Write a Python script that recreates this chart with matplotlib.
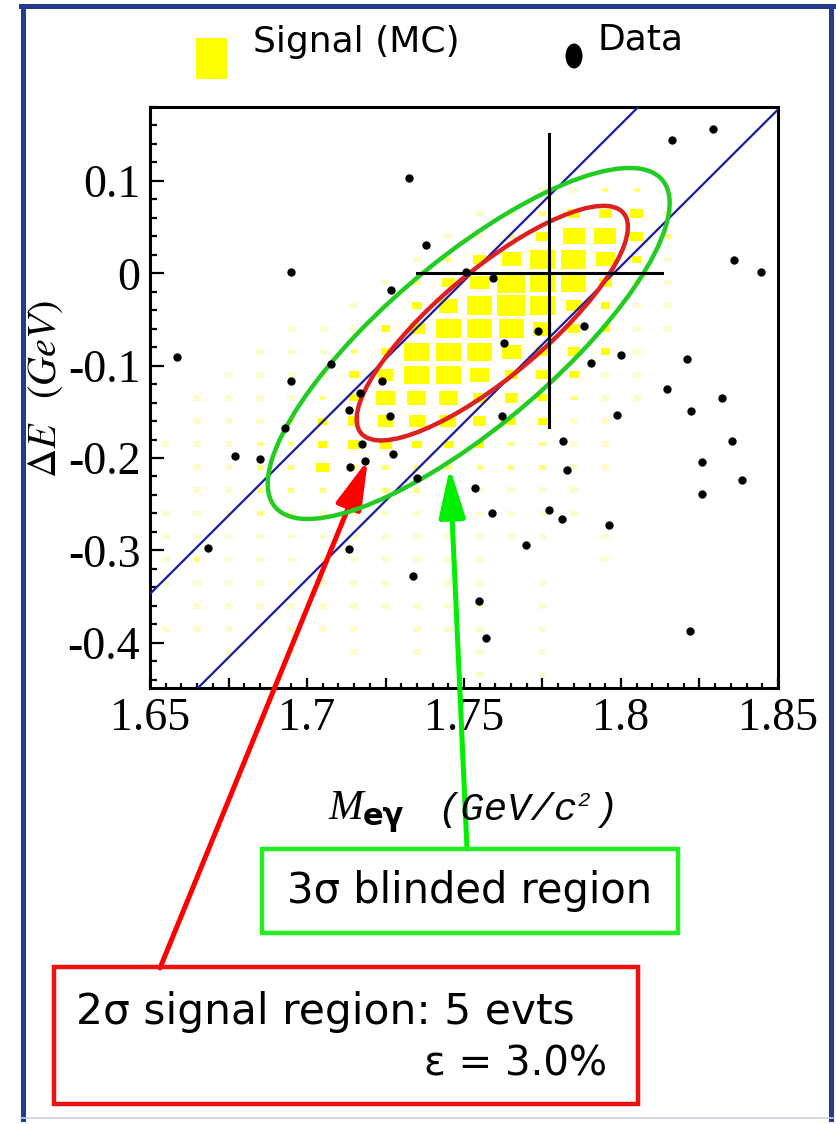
import matplotlib.pyplot as plt
import numpy as np
from matplotlib.patches import Rectangle, Ellipse
from matplotlib.collections import PatchCollection

plt.rcParams['axes.unicode_minus'] = False
plt.rcParams['mathtext.fontset'] = 'stix'

W, H = 837, 1124

# signal MC, box histogram: bin centres and box size (0-9)
mc_x = [1.655, 1.665, 1.675, 1.685, 1.695, 1.705, 1.715, 1.725, 1.735,
        1.745, 1.755, 1.765, 1.775, 1.785, 1.795, 1.805, 1.815]
mc_y = [0.09, 0.065, 0.04, 0.015, -0.01, -0.035, -0.06, -0.085, -0.11,
        -0.135, -0.16, -0.185, -0.21, -0.235, -0.26, -0.285, -0.31,
        -0.335, -0.36, -0.385, -0.41, -0.435]
mc_size = [
    [0, 0, 0, 0, 0, 0, 0, 0, 0, 0, 0, 0, 1, 1, 2, 2, 0],
    [0, 0, 0, 0, 0, 0, 0, 0, 0, 0, 1, 1, 2, 4, 4, 4, 1],
    [0, 0, 0, 0, 0, 0, 0, 0, 0, 1, 1, 2, 4, 7, 7, 4, 2],
    [0, 0, 0, 0, 0, 0, 0, 0, 1, 2, 4, 6, 8, 8, 6, 3, 1],
    [0, 0, 0, 0, 0, 0, 0, 1, 2, 4, 6, 9, 8, 8, 4, 2, 1],
    [0, 0, 0, 0, 0, 0, 1, 1, 3, 6, 8, 9, 8, 5, 3, 1, 1],
    [0, 0, 0, 0, 1, 1, 1, 3, 5, 8, 8, 8, 6, 4, 3, 1, 1],
    [0, 0, 0, 1, 1, 1, 2, 3, 8, 8, 8, 6, 4, 4, 3, 1, 0],
    [0, 0, 1, 1, 1, 1, 3, 5, 8, 8, 6, 4, 4, 3, 1, 1, 0],
    [0, 1, 1, 1, 1, 2, 3, 6, 6, 6, 4, 4, 3, 2, 1, 1, 0],
    [0, 1, 1, 1, 2, 3, 4, 5, 5, 5, 4, 3, 3, 1, 1, 0, 0],
    [1, 1, 1, 2, 2, 3, 4, 4, 3, 3, 3, 2, 2, 1, 1, 0, 0],
    [0, 1, 1, 2, 2, 4, 2, 2, 2, 2, 2, 2, 2, 1, 1, 0, 0],
    [0, 1, 1, 2, 2, 2, 2, 2, 2, 1, 1, 1, 1, 1, 0, 0, 0],
    [1, 1, 1, 2, 1, 1, 1, 1, 1, 1, 1, 1, 1, 1, 0, 0, 0],
    [1, 1, 1, 1, 1, 1, 1, 1, 1, 1, 1, 1, 1, 0, 1, 0, 0],
    [1, 2, 1, 1, 1, 1, 1, 1, 1, 1, 1, 0, 0, 0, 1, 0, 0],
    [1, 1, 1, 1, 1, 1, 1, 1, 0, 1, 1, 0, 1, 0, 0, 0, 0],
    [0, 1, 1, 1, 1, 1, 1, 1, 1, 1, 1, 0, 1, 0, 0, 0, 0],
    [1, 1, 1, 1, 1, 1, 1, 0, 1, 1, 1, 0, 1, 0, 0, 0, 0],
    [0, 0, 1, 0, 1, 0, 1, 0, 1, 0, 1, 0, 1, 0, 0, 0, 0],
    [0, 0, 0, 0, 0, 0, 0, 0, 0, 0, 1, 0, 1, 0, 0, 0, 0],
]

# data events
data_x = [1.7326, 1.7379, 1.6949, 1.7268, 1.6586, 1.7075, 1.6948, 1.7239, 1.7170,
          1.8163, 1.8294, 1.8360, 1.8446, 1.7506, 1.7591, 1.7883, 1.7737, 1.7626,
          1.7999, 1.7903, 1.8211, 1.8146, 1.8321, 1.7134, 1.7265, 1.6930, 1.7176,
          1.6770, 1.6849, 1.7273, 1.7136, 1.7185, 1.7351, 1.6684, 1.7133, 1.7338,
          1.8223, 1.7986, 1.7622, 1.8353, 1.7815, 1.8258, 1.7829, 1.8385, 1.7534,
          1.8258, 1.7590, 1.7771, 1.7813, 1.7962, 1.7696, 1.7547, 1.8220, 1.7569]
data_y = [0.1034, 0.0306, 0.0011, -0.0177, -0.0905, -0.0981, -0.1168, -0.1168, -0.1297,
          0.1438, 0.1560, 0.0144, 0.0017, 0.0011, -0.0054, -0.0570, -0.0624, -0.0757,
          -0.0883, -0.0970, -0.0926, -0.1258, -0.1354, -0.1481, -0.1543, -0.1676, -0.1853,
          -0.1978, -0.2015, -0.1954, -0.2094, -0.2037, -0.2221, -0.2970, -0.2984, -0.3280,
          -0.1496, -0.1532, -0.1543, -0.1813, -0.1821, -0.2048, -0.2126, -0.2238, -0.2329,
          -0.2386, -0.2591, -0.2566, -0.2659, -0.2721, -0.2937, -0.3550, -0.3878, -0.3946]

# ellipses: centre x, centre y, half extent in x, half extent in y, correlation
red_ell = (1.759, -0.054, 0.0432, 0.127, 0.82)
green_ell = (1.7515, -0.076, 0.0640, 0.190, 0.80)

# blue band: crossing points at dE = 0, slope
band_x0 = [1.7524, 1.7977]
band_slope = 3.39

m_tau = 1.777
cross_dx = (1.735, 1.813)
cross_dy = (-0.166, 0.151)


def fx(px):
    return px / W


def fy(py):
    return 1 - py / H


def ellipse(par, color):
    cx, cy, a, b, r = par
    cov = np.array([[a * a, r * a * b], [r * a * b, b * b]])
    vals, vecs = np.linalg.eigh(cov)
    ang = np.degrees(np.arctan2(vecs[1, 1], vecs[0, 1]))
    return Ellipse((cx, cy), 2 * np.sqrt(vals[1]), 2 * np.sqrt(vals[0]), angle=ang,
                   fill=False, ec=color, lw=3.2, zorder=4)


fig = plt.figure(figsize=(W / 100, H / 100), dpi=100)
ax = fig.add_axes([fx(150), fy(688), 628 / W, 581 / H])

# MC boxes
boxes, cols = [], []
for j, y in enumerate(mc_y):
    for i, x in enumerate(mc_x):
        v = mc_size[j][i]
        if v == 0:
            continue
        f = 0.25 if v == 1 else v / 10
        w, h = f * 0.01, f * 0.025
        boxes.append(Rectangle((x - w / 2, y - h / 2), w, h))
        cols.append('#ffff00' if v >= 3 else ('#ffff70' if v == 2 else '#fdfccc'))
ax.add_collection(PatchCollection(boxes, facecolor=cols, edgecolor='none', zorder=1))

for x0 in band_x0:
    ax.axline((x0, 0), slope=band_slope, color='#1a1a9c', lw=1.6, zorder=3)

ax.add_patch(ellipse(green_ell, '#22cc22'))
ax.add_patch(ellipse(red_ell, '#dd2020'))

ax.plot([m_tau, m_tau], cross_dy, color='black', lw=2.2, zorder=5)
ax.plot(cross_dx, [0, 0], color='black', lw=2.2, zorder=5)

ax.plot(data_x, data_y, 'o', color='black', ms=6, mec='none', zorder=6)

ax.set_xlim(1.65, 1.85)
ax.set_ylim(-0.449, 0.180)
ax.set_xticks([1.65, 1.675, 1.7, 1.725, 1.75, 1.775, 1.8, 1.825, 1.85],
              ['1.65', '', '1.7', '', '1.75', '', '1.8', '', '1.85'])
ax.set_xticks(np.arange(1.65, 1.8501, 0.005), minor=True)
ax.set_yticks([-0.4, -0.3, -0.2, -0.1, 0, 0.1], ['-0.4', '-0.3', '-0.2', '-0.1', '0', '0.1'])
ax.set_yticks(np.arange(-0.44, 0.1801, 0.02), minor=True)
ax.tick_params(which='both', direction='in', top=False, right=False, width=1.6)
ax.xaxis.set_tick_params(which='major', length=7, pad=7)
ax.xaxis.set_tick_params(which='minor', length=3.6)
ax.yaxis.set_tick_params(which='major', length=10, pad=7)
ax.yaxis.set_tick_params(which='minor', length=5)
for lab in ax.get_xticklabels():
    lab.set_fontfamily('Liberation Serif')
    lab.set_fontsize(33)
for lab in ax.get_yticklabels():
    lab.set_fontfamily('Liberation Serif')
    lab.set_fontsize(33)
for s in ax.spines.values():
    s.set_linewidth(2.2)

# axis titles
fig.text(fx(45), fy(389), r'$\Delta E$  $(GeV)$', rotation=90, ha='center', va='center',
         fontsize=29)
fig.text(fx(328), fy(809), 'M', family='Liberation Serif', style='italic', fontsize=30,
         ha='left', va='center')
fig.text(fx(363), fy(818), 'e\u03b3', family='DejaVu Sans', weight='bold', fontsize=22,
         ha='left', va='center')
fig.text(fx(437), fy(810), '(GeV/c', family='Liberation Mono', style='italic',
         fontsize=28, ha='left', va='center')
fig.text(fx(578), fy(800), '2', family='Liberation Mono', style='italic',
         fontsize=15, ha='left', va='center')
fig.text(fx(594), fy(810), ')', family='Liberation Mono', style='italic',
         fontsize=28, ha='left', va='center')

# legend
fig.add_artist(Rectangle((fx(196), fy(79)), 31 / W, 41 / H, transform=fig.transFigure,
                         fc='#ffff00', ec='none'))
fig.add_artist(Ellipse((fx(574), fy(56)), 17 / W, 25 / H, transform=fig.transFigure,
                       fc='black', ec='none'))
fig.text(fx(253), fy(42), 'Signal (MC)', fontsize=26, ha='left', va='center')
fig.text(fx(598), fy(40), 'Data', fontsize=26, ha='left', va='center')

# annotation boxes and arrows
fig.add_artist(Rectangle((fx(262), fy(933)), 416 / W, 84 / H, transform=fig.transFigure,
                         fill=False, ec='#22ee22', lw=3.2))
fig.text(fx(470), fy(891), '3\u03c3 blinded region', fontsize=30, ha='center', va='center')
fig.add_artist(Rectangle((fx(54), fy(1104)), 584 / W, 137 / H, transform=fig.transFigure,
                         fill=False, ec='#ee1111', lw=3.2))
fig.text(fx(76), fy(1012), '2\u03c3 signal region: 5 evts', fontsize=30.5, ha='left', va='center')
fig.text(fx(607), fy(1065), '\u03b5 = 3.0%', fontsize=29, ha='right', va='center')

ax.annotate('', xy=(1.7194, -0.2018), xycoords='data',
            xytext=(fx(160), fy(968)), textcoords='figure fraction', annotation_clip=False,
            arrowprops=dict(arrowstyle='-|>,head_length=30,head_width=8', mutation_scale=1,
                            color='#ff0000', lw=3.6, shrinkA=0, shrinkB=0))
ax.annotate('', xy=(1.7455, -0.2105), xycoords='data',
            xytext=(fx(467), fy(849)), textcoords='figure fraction', annotation_clip=False,
            arrowprops=dict(arrowstyle='-|>,head_length=30,head_width=8', mutation_scale=1,
                            color='#00ee00', lw=3.6, shrinkA=0, shrinkB=0))

# slide frame
frame = '#213b8f'
fig.add_artist(plt.Line2D([fx(23), fx(23)], [fy(6), fy(1119)], color=frame, lw=3.6))
fig.add_artist(plt.Line2D([fx(831), fx(831)], [fy(6), fy(1119)], color=frame, lw=3.6))
fig.add_artist(plt.Line2D([fx(21), fx(833)], [fy(6), fy(6)], color=frame, lw=3.6))
fig.add_artist(plt.Line2D([fx(21), fx(833)], [fy(1118), fy(1118)], color='#c9cfdc', lw=1.2))

fig.savefig('out.png', dpi=100)
